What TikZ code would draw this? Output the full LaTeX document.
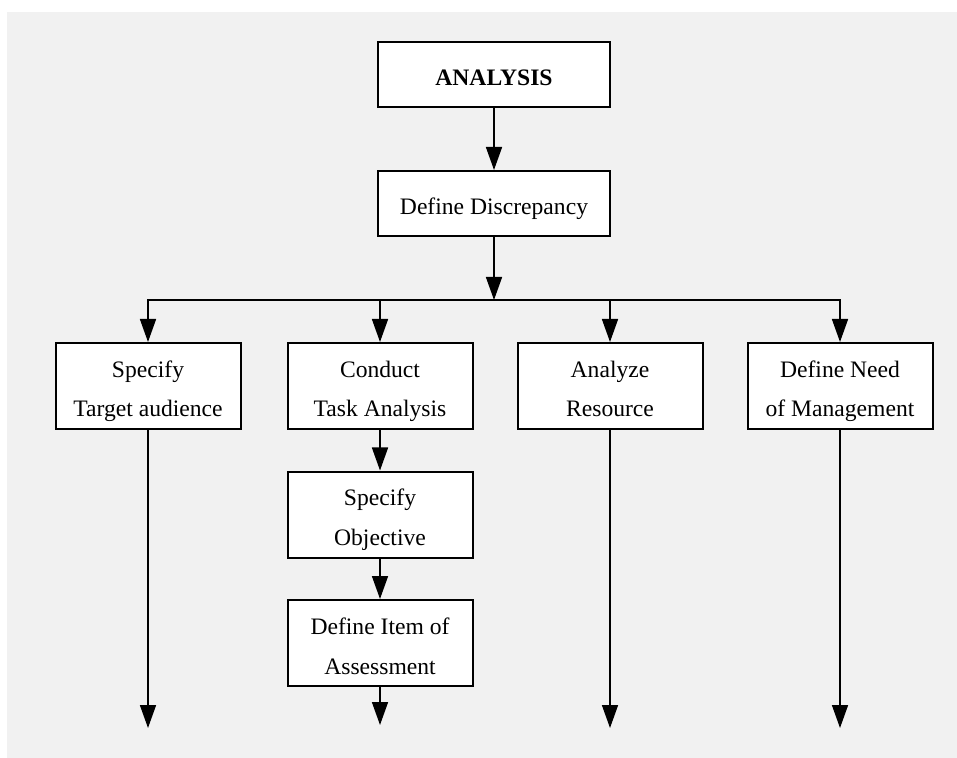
\documentclass[tikz,border=0pt]{standalone}
\usepackage{fontspec}
\setmainfont{Liberation Serif}
\usetikzlibrary{arrows.meta}
\definecolor{bggray}{HTML}{F1F1F1}
\tikzset{
  box/.style={draw, line width=1pt, fill=white, inner sep=0pt, align=center,
    font=\fontsize{11.8}{20}\selectfont},
  wbox/.style={box, minimum width=116pt, minimum height=32.5pt,
    text height=14pt, text depth=2.5pt},
  sbox/.style={box, minimum width=92.5pt, minimum height=43pt,
    text height=36pt, text depth=5pt},
  link/.style={line width=0.8pt, -{Triangle[width=8pt,length=11.5pt]}}
}
\begin{document}
\begin{tikzpicture}[x=0.5pt, y=-0.5pt]
\useasboundingbox (0,0) rectangle (957,758);
\fill[bggray] (7,12) rectangle (957,758);

\node[wbox] (A) at (494,74.5) {\textbf{ANALYSIS}};
\node[wbox] (D) at (494,203.5) {Define Discrepancy};
\coordinate (J) at (494,300);

\node[sbox] (TA) at (148,386) {Specify\\Target audience};
\node[sbox] (CT) at (380,386) {Conduct\\Task Analysis};
\node[sbox] (AR) at (610,386) {Analyze\\Resource};
\node[sbox] (NM) at (840,386) {Define Need\\of Management};
\node[sbox] (SO) at (380,514.5) {Specify\\Objective};
\node[sbox] (IA) at (380,643) {Define Item of\\Assessment};

\coordinate (eTA) at (148,728);
\coordinate (eIA) at (380,725);
\coordinate (eAR) at (610,728);
\coordinate (eNM) at (840,728);

\draw[link] (A) -- (D);
\draw[link] (D) -- (J);
\draw[link] (J) -| (TA);
\draw[link] (J) -| (CT);
\draw[link] (J) -| (AR);
\draw[link] (J) -| (NM);
\draw[link] (CT) -- (SO);
\draw[link] (SO) -- (IA);
\draw[link] (TA) -- (eTA);
\draw[link] (IA) -- (eIA);
\draw[link] (AR) -- (eAR);
\draw[link] (NM) -- (eNM);
\end{tikzpicture}
\end{document}
